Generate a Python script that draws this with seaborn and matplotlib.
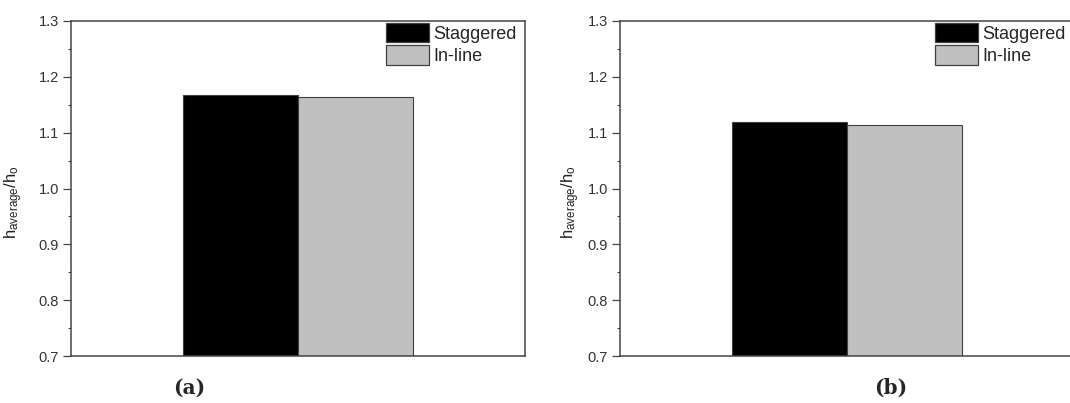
import matplotlib
matplotlib.use("Agg")
import matplotlib.pyplot as plt
from matplotlib.ticker import MultipleLocator
import pandas as pd
import seaborn as sns

# Average heat transfer ratio for the two tube arrangements, two cases
arrangements = ["Staggered", "In-line"]
case_a_values = [1.167, 1.163]
case_b_values = [1.120, 1.114]
panel_labels = ["(a)", "(b)"]
y_ticks = [0.7, 0.8, 0.9, 1.0, 1.1, 1.2, 1.3]

bar_colors = ["#000000", "#c0c0c0"]
axis_color = "#454545"

sns.set_theme(style="white")
plt.rcParams["font.family"] = ["Liberation Sans", "DejaVu Sans"]
plt.rcParams["mathtext.fontset"] = "custom"
plt.rcParams["mathtext.rm"] = "Liberation Sans"
plt.rcParams["mathtext.it"] = "Liberation Sans"

fig = plt.figure(figsize=(10.7, 4.03), dpi=100)

W, H = 1070, 403
ax_bottom = (H - 356) / H
ax_height = 335 / H
ax_width = 454 / W
lefts = [71 / W, 620 / W]
label_x = [-0.101, -0.084]

for i, (vals, plabel) in enumerate(zip([case_a_values, case_b_values], panel_labels)):
    ax = fig.add_axes([lefts[i], ax_bottom, ax_width, ax_height])
    df = pd.DataFrame({"case": [plabel] * len(arrangements),
                       "arrangement": arrangements,
                       "value": vals})
    sns.barplot(data=df, x="case", y="value", hue="arrangement",
                hue_order=arrangements, palette=bar_colors, width=0.507,
                edgecolor="#404040", linewidth=0.8, saturation=1,
                ax=ax)
    ax.set_xlim(-0.5, 0.5)
    ax.set_ylim(0.7, 1.3)
    ax.set_yticks(y_ticks)
    ax.set_yticklabels([f"{t:.1f}" for t in y_ticks])
    ax.yaxis.set_minor_locator(MultipleLocator(0.05))
    ax.set_xticks([])
    ax.set_xlabel("")
    ax.set_ylabel(r"$\mathregular{h_{average}/h_o}$", fontsize=12, color="#222222")
    ax.yaxis.set_label_coords(label_x[i], 0.46)

    for sp in ax.spines.values():
        sp.set_visible(True)
        sp.set_color(axis_color)
        sp.set_linewidth(1.1)

    ax.tick_params(axis="y", which="major", direction="out", length=5.5,
                   width=0.9, color=axis_color, labelsize=10.5,
                   labelcolor="#333333", pad=3, left=True)
    ax.tick_params(axis="y", which="minor", direction="out", length=2.5,
                   width=0.8, color=axis_color, left=True)

    leg = ax.legend(loc="upper right", bbox_to_anchor=(1 - 6.5 / 454, 1.0),
                    frameon=False, fontsize=13,
                    handlelength=2.35, handleheight=1.3, handletextpad=0.25,
                    labelspacing=0.15, borderpad=0.1, borderaxespad=0.0)
    for h in leg.legend_handles:
        h.set_edgecolor("#404040")
        h.set_linewidth(0.9)

fig.text(189 / W, (H - 388) / H, panel_labels[0], ha="center", va="center",
         fontsize=14.5, fontweight="bold", family="DejaVu Serif")
fig.text(891 / W, (H - 388) / H, panel_labels[1], ha="center", va="center",
         fontsize=14.5, fontweight="bold", family="DejaVu Serif")

fig.savefig("out.png", dpi=100, facecolor="white")
